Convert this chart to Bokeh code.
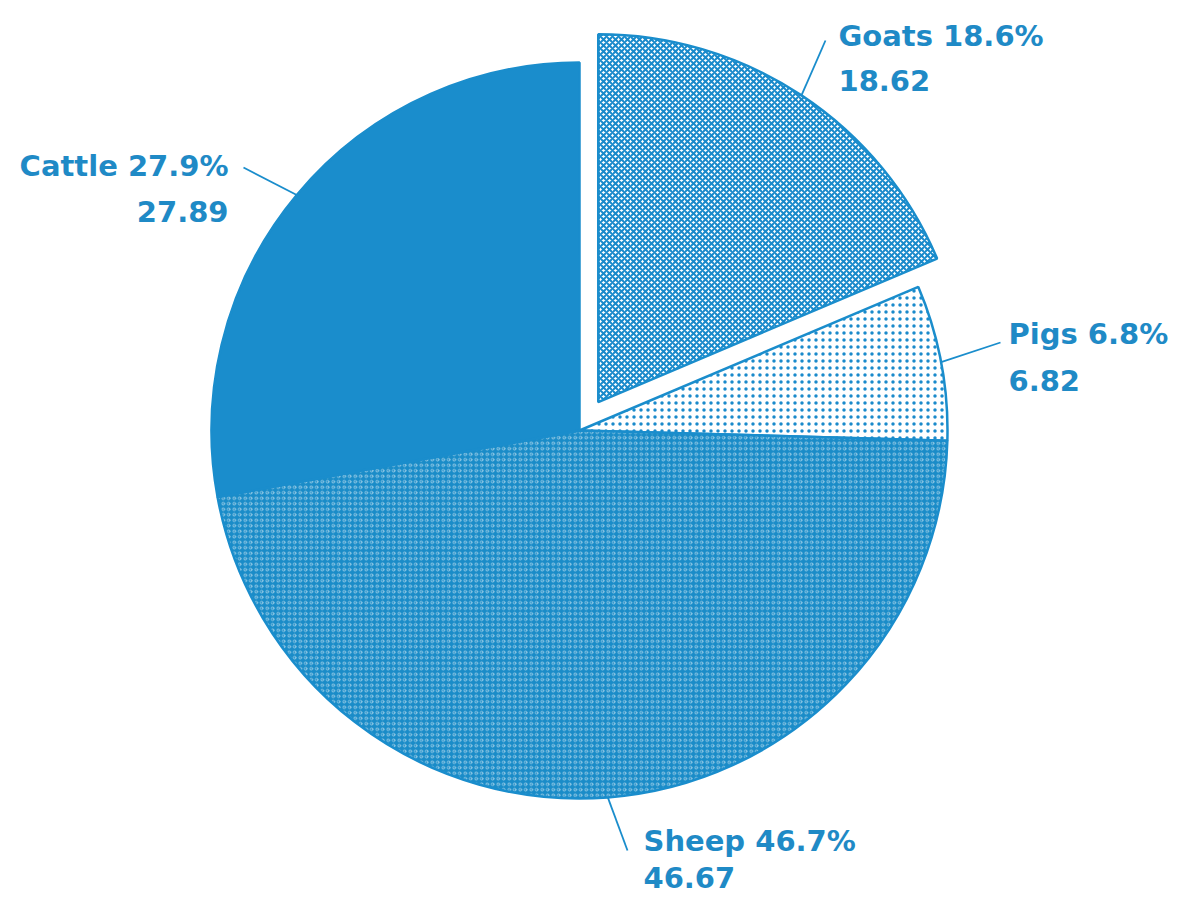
import math
from bokeh.plotting import figure
from bokeh.models import Range1d
from bokeh.core.properties import value
from bokeh.embed import file_html
from bokeh.resources import INLINE

# ---- data ----
names = ["Goats", "Pigs", "Sheep", "Cattle"]
values = [18.62, 6.82, 46.67, 27.89]
pct_text = ["18.6%", "6.8%", "46.7%", "27.9%"]
value_text = ["18.62", "6.82", "46.67", "27.89"]

# ---- layout / style (screen pixel coordinates of the 1182x899 page) ----
W, H = 1182, 899
PAGE_H = 899
CX, CY, R = 579, 430, 368
explode = [34, 0, 0, 0]
BLUE = "#1a8dcc"
TEXT_BLUE = "#1f8ac6"
styles = [
    dict(fill_color="white", hatch_pattern="x", hatch_color="#1a8acb", hatch_scale=6, hatch_weight=2.0, hatch_alpha=1.0),
    dict(fill_color="white", hatch_pattern="dot", hatch_color="#1a8acb", hatch_scale=7, hatch_weight=1.6, hatch_alpha=1.0),
    dict(fill_color="#1a8cc8", hatch_pattern="ring", hatch_color="white", hatch_scale=5.5, hatch_weight=0.9, hatch_alpha=0.55),
    dict(fill_color=BLUE, hatch_pattern=" "),
]
# leader end point and text anchor (screen coords), text alignment, line gap
label_layout = [
    dict(end=(825, 40), text=(838, 35), align="left", gap=45),
    dict(end=(1000, 342), text=(1008, 333), align="left", gap=47),
    dict(end=(627, 850), text=(643, 840), align="left", gap=37),
    dict(end=(243, 167), text=(228, 165), align="right", gap=46),
]
FONT = "DejaVu Sans"
FONT_SIZE = "29px"


def sy(y):
    # screen y -> data y
    return PAGE_H - y


p = figure(width=W, height=H, x_range=Range1d(0, W), y_range=Range1d(0, H),
           output_backend="svg", toolbar_location=None, min_border=0,
           x_axis_type=None, y_axis_type=None)
p.grid.visible = False
p.outline_line_color = None
p.background_fill_color = "white"
p.border_fill_color = "white"

total = sum(values)
cum = 0.0
for i, v in enumerate(values):
    a0 = math.pi / 2 - 2 * math.pi * cum / total
    cum += v
    a1 = math.pi / 2 - 2 * math.pi * cum / total
    mid = (a0 + a1) / 2
    cx = CX + explode[i] * math.cos(mid)
    cy = sy(CY) + explode[i] * math.sin(mid)
    p.wedge(x=[cx], y=[cy], radius=R, start_angle=[a1], end_angle=[a0],
            line_color=BLUE, line_width=2.5, **styles[i])

    # leader line
    lx0 = cx + R * math.cos(mid)
    ly0 = cy + R * math.sin(mid)
    lay = label_layout[i]
    ex, ey = lay["end"]
    p.line([lx0, ex], [ly0, sy(ey)], line_color=BLUE, line_width=1.8)

    tx, ty = lay["text"]
    p.text(x=[tx, tx], y=[sy(ty), sy(ty + lay["gap"])],
           text=[f"{names[i]} {pct_text[i]}", value_text[i]],
           text_font=value(FONT), text_font_style="bold", text_font_size=FONT_SIZE,
           text_color=TEXT_BLUE, text_align=lay["align"], text_baseline="alphabetic")

open("out.html", "w").write(file_html(p, INLINE))
